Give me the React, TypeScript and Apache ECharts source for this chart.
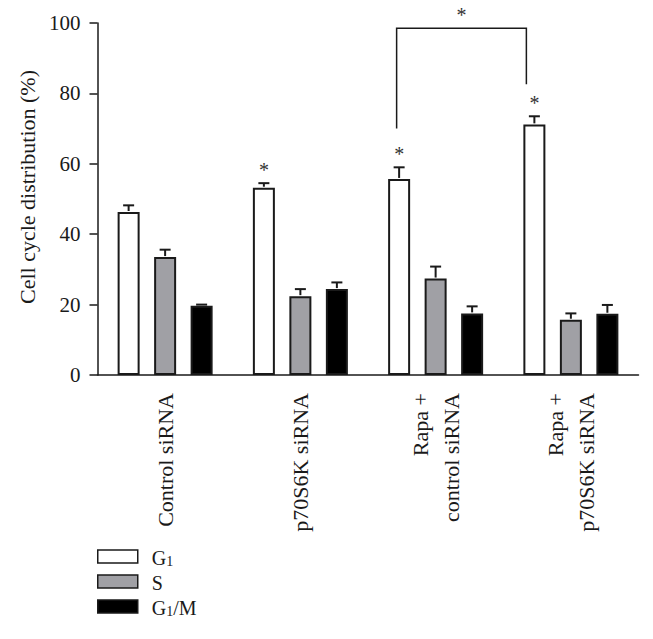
import React, { useEffect, useRef } from "react";
import * as echarts from "echarts";

const categories = ["Control siRNA", "p70S6K siRNA", "Rapa +\ncontrol siRNA", "Rapa +\np70S6K siRNA"];
const seriesNames = ["G1", "S", "G1/M"];
const g1Values = [46.3, 53.2, 55.7, 71.2];
const g1Errors = [1.9, 1.3, 3.3, 2.3];
const sValues = [33.5, 22.4, 27.4, 15.7];
const sErrors = [2.1, 2.0, 3.4, 1.8];
const g2mValues = [19.7, 24.4, 17.5, 17.4];
const g2mErrors = [0.3, 1.9, 2.0, 2.5];
const g1Stars = [false, true, true, true];
const yTicks = [0, 20, 40, 60, 80, 100];
// bracket: from category index, to category index, top value, left end value, right end value
const bracket = [2, 3, 98.5, 70, 82.6];

const FONT = "'Liberation Serif', 'DejaVu Serif', serif";
const INK = "#1a1a1a";
const BAR_W = 22;
const BAR_STEP = 36.5;
const fills = ["#ffffff", "#a0a0a5", "#000000"];

export default function App() {
  const ref = useRef<HTMLDivElement>(null);

  useEffect(() => {
    document.body.style.margin = "0";
    const chart = echarts.init(ref.current!, null, { renderer: "svg" });
    const values = [g1Values, sValues, g2mValues];
    const errors = [g1Errors, sErrors, g2mErrors];

    const barSeries = seriesNames.map((name, i) => ({
      name,
      type: "bar",
      data: values[i],
      barWidth: BAR_W,
      barGap: ((BAR_STEP - BAR_W) / BAR_W) * 100 + "%",
      itemStyle: { color: fills[i], borderColor: INK, borderWidth: 2 },
      z: 2,
    }));

    const errSeries = seriesNames.map((name, i) => ({
      name: name + " error",
      type: "custom",
      z: 3,
      data: values[i].map((v, k) => [k, v, errors[i][k], i === 0 && g1Stars[k] ? 1 : 0]),
      encode: { x: 0, y: 1 },
      renderItem: (params: any, api: any) => {
        const cat = api.value(0);
        const v = api.value(1);
        const e = api.value(2);
        const star = api.value(3);
        const base = api.coord([cat, v]);
        const top = api.coord([cat, v + e]);
        const x = base[0] + (i - 1) * BAR_STEP;
        const children: any[] = [
          { type: "line", shape: { x1: x, y1: base[1] - 1, x2: x, y2: top[1] }, style: { stroke: INK, lineWidth: 2 } },
          { type: "line", shape: { x1: x - 5.5, y1: top[1], x2: x + 5.5, y2: top[1] }, style: { stroke: INK, lineWidth: 2 } },
        ];
        if (star) {
          children.push({
            type: "text",
            style: {
              text: "*",
              x,
              y: top[1] - 3,
              align: "center",
              verticalAlign: "bottom",
              fontSize: 20,
              fontFamily: FONT,
              fill: "#333",
            },
          });
        }
        return { type: "group", children };
      },
    }));

    const bracketSeries = {
      name: "bracket",
      type: "custom",
      z: 4,
      data: [bracket],
      encode: { x: 0, y: 2 },
      renderItem: (params: any, api: any) => {
        const c1 = api.value(0);
        const c2 = api.value(1);
        const yTop = api.value(2);
        const yL = api.value(3);
        const yR = api.value(4);
        const xL = api.coord([c1, yTop])[0] - BAR_STEP - 2.5;
        const xR = api.coord([c2, yTop])[0] - BAR_STEP - 8;
        const pTop = api.coord([c1, yTop])[1];
        const pL = api.coord([c1, yL])[1];
        const pR = api.coord([c2, yR])[1];
        return {
          type: "group",
          children: [
            {
              type: "polyline",
              shape: { points: [[xL, pL], [xL, pTop], [xR, pTop], [xR, pR]] },
              style: { stroke: INK, lineWidth: 1.5, fill: "none" },
            },
            {
              type: "text",
              style: {
                text: "*",
                x: (xL + xR) / 2,
                y: pTop - 3,
                align: "center",
                verticalAlign: "bottom",
                fontSize: 20,
                fontFamily: FONT,
                fill: "#333",
              },
            },
          ],
        };
      },
    };

    chart.setOption({
      animation: false,
      backgroundColor: "#ffffff",
      grid: { left: 97.5, right: 14.5, top: 23, bottom: 264 },
      legend: {
        data: seriesNames,
        orient: "vertical",
        left: 97,
        top: 548,
        height: 90,
        padding: 0,
        itemWidth: 40,
        itemHeight: 13,
        itemGap: 5,
        icon: "rect",
        selectedMode: false,
        itemStyle: { borderColor: INK, borderWidth: 1.5 },
        formatter: (name: string) => {
          if (name === "G1") return "{b|G}{s|1}";
          if (name === "G1/M") return "{b|G}{s|1}{b|/M}";
          return "{b|" + name + "}";
        },
        textStyle: {
          fontSize: 20,
          fontFamily: FONT,
          color: INK,
          padding: [0, 0, 0, 9],
          rich: {
            b: { fontSize: 20, fontFamily: FONT, color: INK, lineHeight: 23, verticalAlign: "bottom" },
            s: { fontSize: 14, fontFamily: FONT, color: INK, verticalAlign: "bottom", padding: [7, 0, 0, 0] },
          },
        },
      },
      xAxis: {
        type: "category",
        data: categories,
        axisLine: { lineStyle: { color: INK, width: 1.5 } },
        axisTick: { alignWithLabel: true, length: 8, lineStyle: { color: INK, width: 1.5 } },
        axisLabel: {
          rotate: 90,
          margin: 18,
          fontSize: 22,
          lineHeight: 31,
          fontFamily: FONT,
          color: INK,
          interval: 0,
        },
      },
      yAxis: {
        type: "value",
        min: yTicks[0],
        max: yTicks[yTicks.length - 1],
        interval: yTicks[1] - yTicks[0],
        name: "Cell cycle distribution (%)",
        nameLocation: "middle",
        nameGap: 55,
        nameTextStyle: { fontSize: 22, fontFamily: FONT, color: INK, padding: [0, 0, 0, 24] },
        axisLine: { show: true, lineStyle: { color: INK, width: 1.5 } },
        axisTick: { show: true, length: 8, lineStyle: { color: INK, width: 1.5 } },
        axisLabel: { margin: 17, fontSize: 21, fontFamily: FONT, color: INK },
        splitLine: { show: false },
      },
      series: [...barSeries, ...errSeries, bracketSeries],
    });
    return () => chart.dispose();
  }, []);

  return <div ref={ref} style={{ width: 653, height: 639 }} />;
}
